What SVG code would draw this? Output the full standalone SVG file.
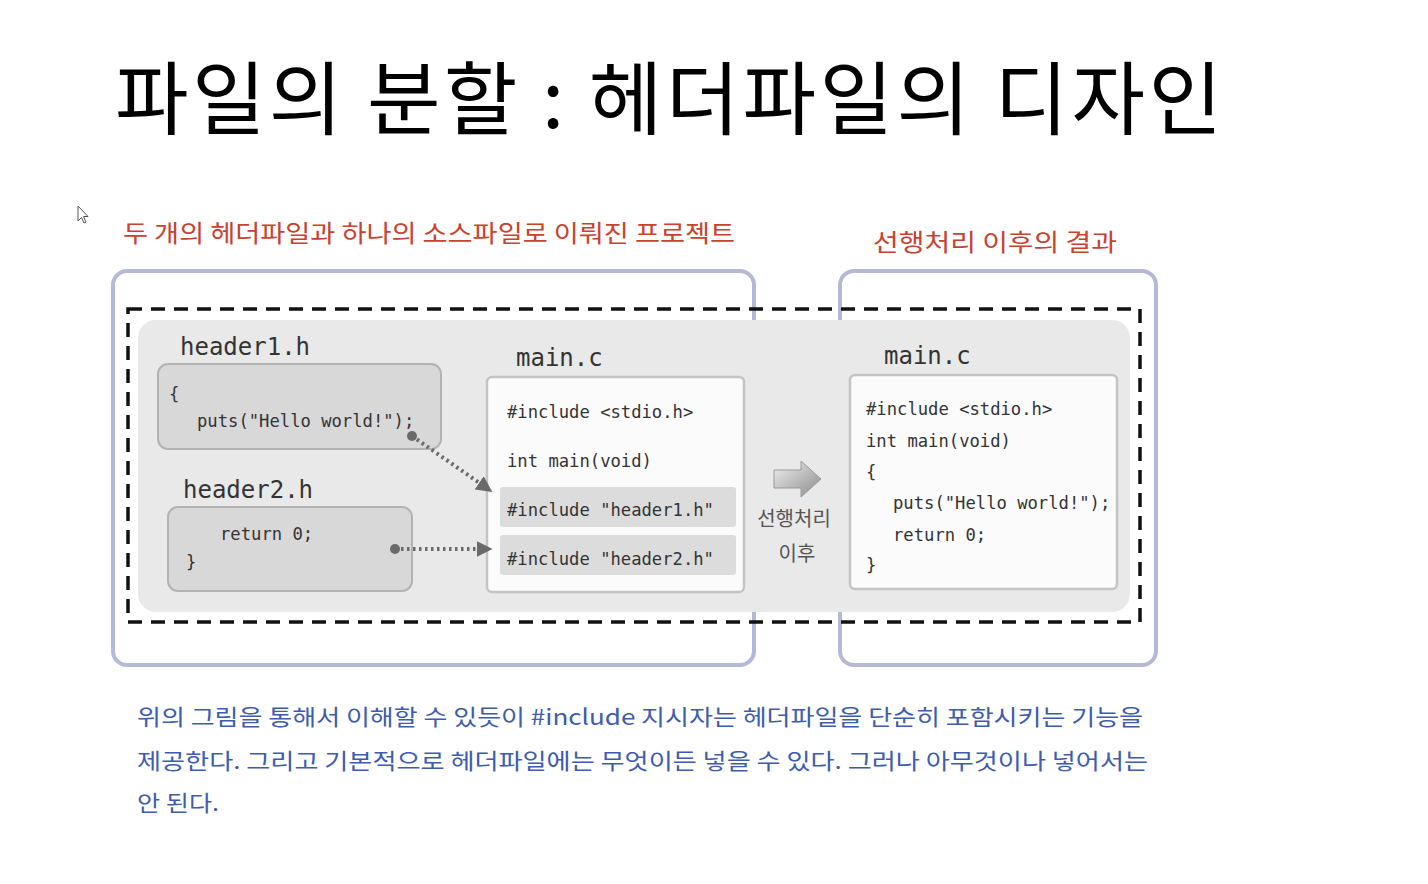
<svg xmlns="http://www.w3.org/2000/svg" width="1428" height="884" viewBox="0 0 1428 884">
<defs>
<style>
.title{font-family:"Noto Sans CJK KR","Noto Sans",sans-serif;font-size:80px;fill:#000}
.red{font-family:"Noto Sans CJK KR",sans-serif;font-size:24px;fill:#c8422e}
.frame{fill:none;stroke:#b6b9d6;stroke-width:4}
.code{font-family:"DejaVu Sans Mono","Liberation Mono",monospace;font-size:17.2px;fill:#333}
.lbl{font-family:"DejaVu Sans Mono","Liberation Mono",monospace;font-size:24px;fill:#333}
.hbox{fill:#d8d8d8;stroke:#b3b3b3;stroke-width:2}
.wbox{fill:#fbfbfb;stroke:#c4c4c4;stroke-width:2.5}
.hl{fill:#dcdcdc}
.conn{fill:none;stroke:#6a6a6a;stroke-width:4;stroke-dasharray:2.5 3.5}
.body{font-family:"Noto Sans CJK KR","Noto Sans",sans-serif;font-size:22px;fill:#3d5cae}
.gray{font-family:"Noto Sans CJK KR",sans-serif;font-size:20px;fill:#555}
</style>
<marker id="ah" viewBox="0 0 10 10" refX="9" refY="5" markerWidth="4" markerHeight="4" orient="auto" markerUnits="strokeWidth"><path d="M0,0 L10,5 L0,10 z" fill="#6a6a6a"/></marker>
<linearGradient id="ag" x1="0" y1="0" x2="1" y2="1"><stop offset="0" stop-color="#f2f2f2"/><stop offset="0.5" stop-color="#bdbdbd"/><stop offset="1" stop-color="#8a8a8a"/></linearGradient>
</defs>
<rect width="1428" height="884" fill="#fff"/>
<path d="M78,206 L78,221 L81.5,217.5 L84,223 L86,222 L83.5,216.5 L88,216.5 Z" fill="#fff" stroke="#555" stroke-width="1"/>
<text class="title" x="115" y="128" textLength="1107" lengthAdjust="spacing">파일의 분할 : 헤더파일의 디자인</text>
<text class="red" x="123" y="242" textLength="612" lengthAdjust="spacingAndGlyphs">두 개의 헤더파일과 하나의 소스파일로 이뤄진 프로젝트</text>
<text class="red" x="873" y="251" textLength="244" lengthAdjust="spacingAndGlyphs">선행처리 이후의 결과</text>
<g id="frames">
<rect class="frame" x="113" y="271" width="641" height="394" rx="14"/>
<rect class="frame" x="840" y="271" width="316" height="394" rx="14"/>
</g>
<rect x="128" y="309" width="1012" height="313" fill="none" stroke="#111" stroke-width="3.5" stroke-dasharray="14 9"/>
<rect x="138" y="320" width="992" height="292" rx="18" fill="#e9e9e9"/>
<g id="header1">
<text class="lbl" x="180" y="355">header1.h</text>
<rect class="hbox" x="158" y="364" width="283" height="85" rx="10"/>
<text class="code" x="169" y="400">{</text>
<text class="code" x="197" y="427">puts("Hello world!");</text>
</g>
<g id="header2">
<text class="lbl" x="183" y="498">header2.h</text>
<rect class="hbox" x="168" y="507" width="244" height="84" rx="10"/>
<text class="code" x="220" y="540">return 0;</text>
<text class="code" x="186" y="568">}</text>
</g>
<g id="mainc">
<text class="lbl" x="516" y="366">main.c</text>
<rect class="wbox" x="487" y="377" width="257" height="215" rx="5"/>
<text class="code" x="507" y="418">#include &lt;stdio.h&gt;</text>
<text class="code" x="507" y="467">int main(void)</text>
<rect class="hl" x="500" y="487" width="236" height="40" rx="3"/>
<text class="code" x="507" y="516">#include "header1.h"</text>
<rect class="hl" x="500" y="535" width="236" height="40" rx="3"/>
<text class="code" x="507" y="565">#include "header2.h"</text>
</g>
<g id="connectors">
<circle cx="412" cy="436" r="5" fill="#6a6a6a"/>
<path class="conn" d="M412,436 L491,491" marker-end="url(#ah)"/>
<circle cx="395" cy="549" r="5" fill="#6a6a6a"/>
<path class="conn" d="M395,549 L491,549" marker-end="url(#ah)"/>
</g>
<g id="process">
<path d="M774,470 L801,470 L801,461 L821,479 L801,497 L801,488 L774,488 Z" fill="url(#ag)" stroke="#9a9a9a" stroke-width="1"/>
<text class="gray" x="794" y="526" text-anchor="middle">선행처리</text>
<text class="gray" x="797" y="561" text-anchor="middle">이후</text>
</g>
<g id="result">
<text class="lbl" x="884" y="364">main.c</text>
<rect class="wbox" x="850" y="375" width="267" height="214" rx="5"/>
<text class="code" x="866" y="415">#include &lt;stdio.h&gt;</text>
<text class="code" x="866" y="447">int main(void)</text>
<text class="code" x="866" y="478">{</text>
<text class="code" x="893" y="509">puts("Hello world!");</text>
<text class="code" x="893" y="541">return 0;</text>
<text class="code" x="866" y="571">}</text>
</g>
<g id="caption">
<text class="body" x="137" y="725" textLength="1006" lengthAdjust="spacingAndGlyphs">위의 그림을 통해서 이해할 수 있듯이 #include 지시자는 헤더파일을 단순히 포함시키는 기능을</text>
<text class="body" x="137" y="769" textLength="1011" lengthAdjust="spacingAndGlyphs">제공한다. 그리고 기본적으로 헤더파일에는 무엇이든 넣을 수 있다. 그러나 아무것이나 넣어서는</text>
<text class="body" x="137" y="811" textLength="82" lengthAdjust="spacingAndGlyphs">안 된다.</text>
</g>
</svg>
